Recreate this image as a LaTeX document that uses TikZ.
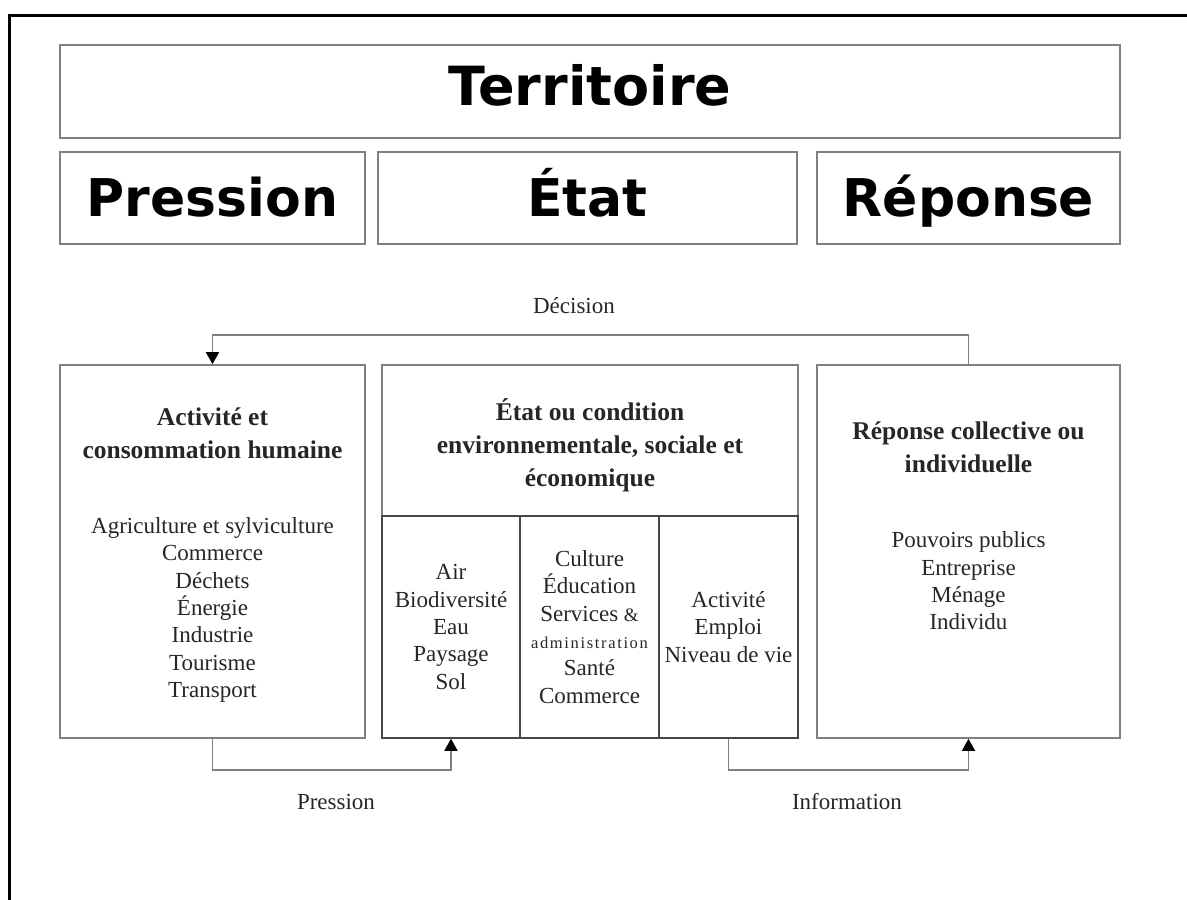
\documentclass[tikz,border=0pt]{standalone}
\usepackage{fontspec}
\setmainfont{Liberation Serif}
\newfontfamily\headfont{DejaVu Sans}
\usetikzlibrary{arrows.meta}

\begin{document}
\begin{tikzpicture}[x=1pt,y=-1pt,
  frame/.style={draw=black!50, line width=1.7pt, inner sep=0pt},
  cell/.style={draw=black!72, line width=1.5pt, inner sep=0pt, align=center,
    font=\fontsize{23}{27.3}\selectfont, text=black!85},
  headtext/.style={font=\headfont\bfseries\fontsize{52}{60}\selectfont,
    text height=36pt, text depth=0pt},
  titletext/.style={align=center, inner sep=0pt, text=black!85,
    font=\bfseries\fontsize{25.5}{33}\selectfont},
  listtext/.style={align=center, inner sep=0pt, text=black!85,
    font=\fontsize{23}{27.3}\selectfont},
  labeltext/.style={inner sep=0pt, text=black!85, font=\fontsize{23}{27}\selectfont},
  conn/.style={draw=black!50, line width=1.7pt,
    -{Triangle[length=12pt,width=13pt,color=black]}}
]
\useasboundingbox (0,0) rectangle (1187,900);

% outer frame (top and left edges)
\coordinate (fbl) at (9,900);
\coordinate (ftl) at (9,15);
\coordinate (ftr) at (1187,15);
\draw[line width=3pt] (fbl) -- (ftl) -- (ftr);

% heading bands
\node[frame, headtext, font=\headfont\bfseries\fontsize{54}{60}\selectfont, text height=28pt,
  minimum width=1060pt, minimum height=93pt] (terr) at (590,91.5) {Territoire};
\node[frame, headtext, minimum width=305pt, minimum height=92pt] (hpress) at (212.5,198) {Pression};
\node[frame, headtext, minimum width=419pt, minimum height=92pt] (hetat) at (587.5,198) {État};
\node[frame, headtext, minimum width=303pt, minimum height=92pt] (hrep) at (968.5,198) {Réponse};

% lower boxes
\node[frame, minimum width=305pt, minimum height=373pt] (lbox) at (212.5,551.5) {};
\node[frame, minimum width=416pt, minimum height=373pt] (mbox) at (590,551.5) {};
\node[frame, minimum width=303pt, minimum height=373pt] (rbox) at (968.5,551.5) {};

% pressure box contents
\node[titletext] (ltitle) at (212.5,433) {Activité et\\consommation humaine};
\node[listtext] (llist) at (212.5,610) {Agriculture et sylviculture\\Commerce\\Déchets\\Énergie\\Industrie\\Tourisme\\Transport};

% state box contents
\node[titletext] (mtitle) at (590,445) {État ou condition\\environnementale, sociale et\\économique};
\node[cell, minimum width=138pt, minimum height=222pt] (colA) at (451,627)
  {Air\\Biodiversité\\Eau\\Paysage\\Sol};
\node[cell, minimum width=139pt, minimum height=222pt] (colB) at (589.5,627)
  {Culture\\Éducation\\Services {\fontsize{19}{27.3}\selectfont\&}\\
   {\fontsize{16.5}{27.3}\selectfont\addfontfeatures{LetterSpace=10}administration}\\Santé\\Commerce};
\node[cell, minimum width=139pt, minimum height=222pt] (colC) at (728.5,627)
  {Activité\\Emploi\\Niveau de vie};

% response box contents
\node[titletext] (rtitle) at (968.5,447) {Réponse collective ou\\individuelle};
\node[listtext] (rlist) at (968.5,581) {Pouvoirs publics\\Entreprise\\Ménage\\Individu};

% feedback loops
\coordinate (decy) at (590,335);
\coordinate (pry) at (330,770);
\coordinate (infy) at (850,770);
\draw[conn] (rbox.north) |- (decy) -| (lbox.north);
\draw[conn] (lbox.south) |- (pry) -| (colA.south);
\draw[conn] (colC.south) |- (infy) -| (rbox.south);

\node[labeltext] (declab) at (574,306) {Décision};
\node[labeltext] (prlab) at (336,802) {Pression};
\node[labeltext] (inflab) at (847,802) {Information};
\end{tikzpicture}
\end{document}
